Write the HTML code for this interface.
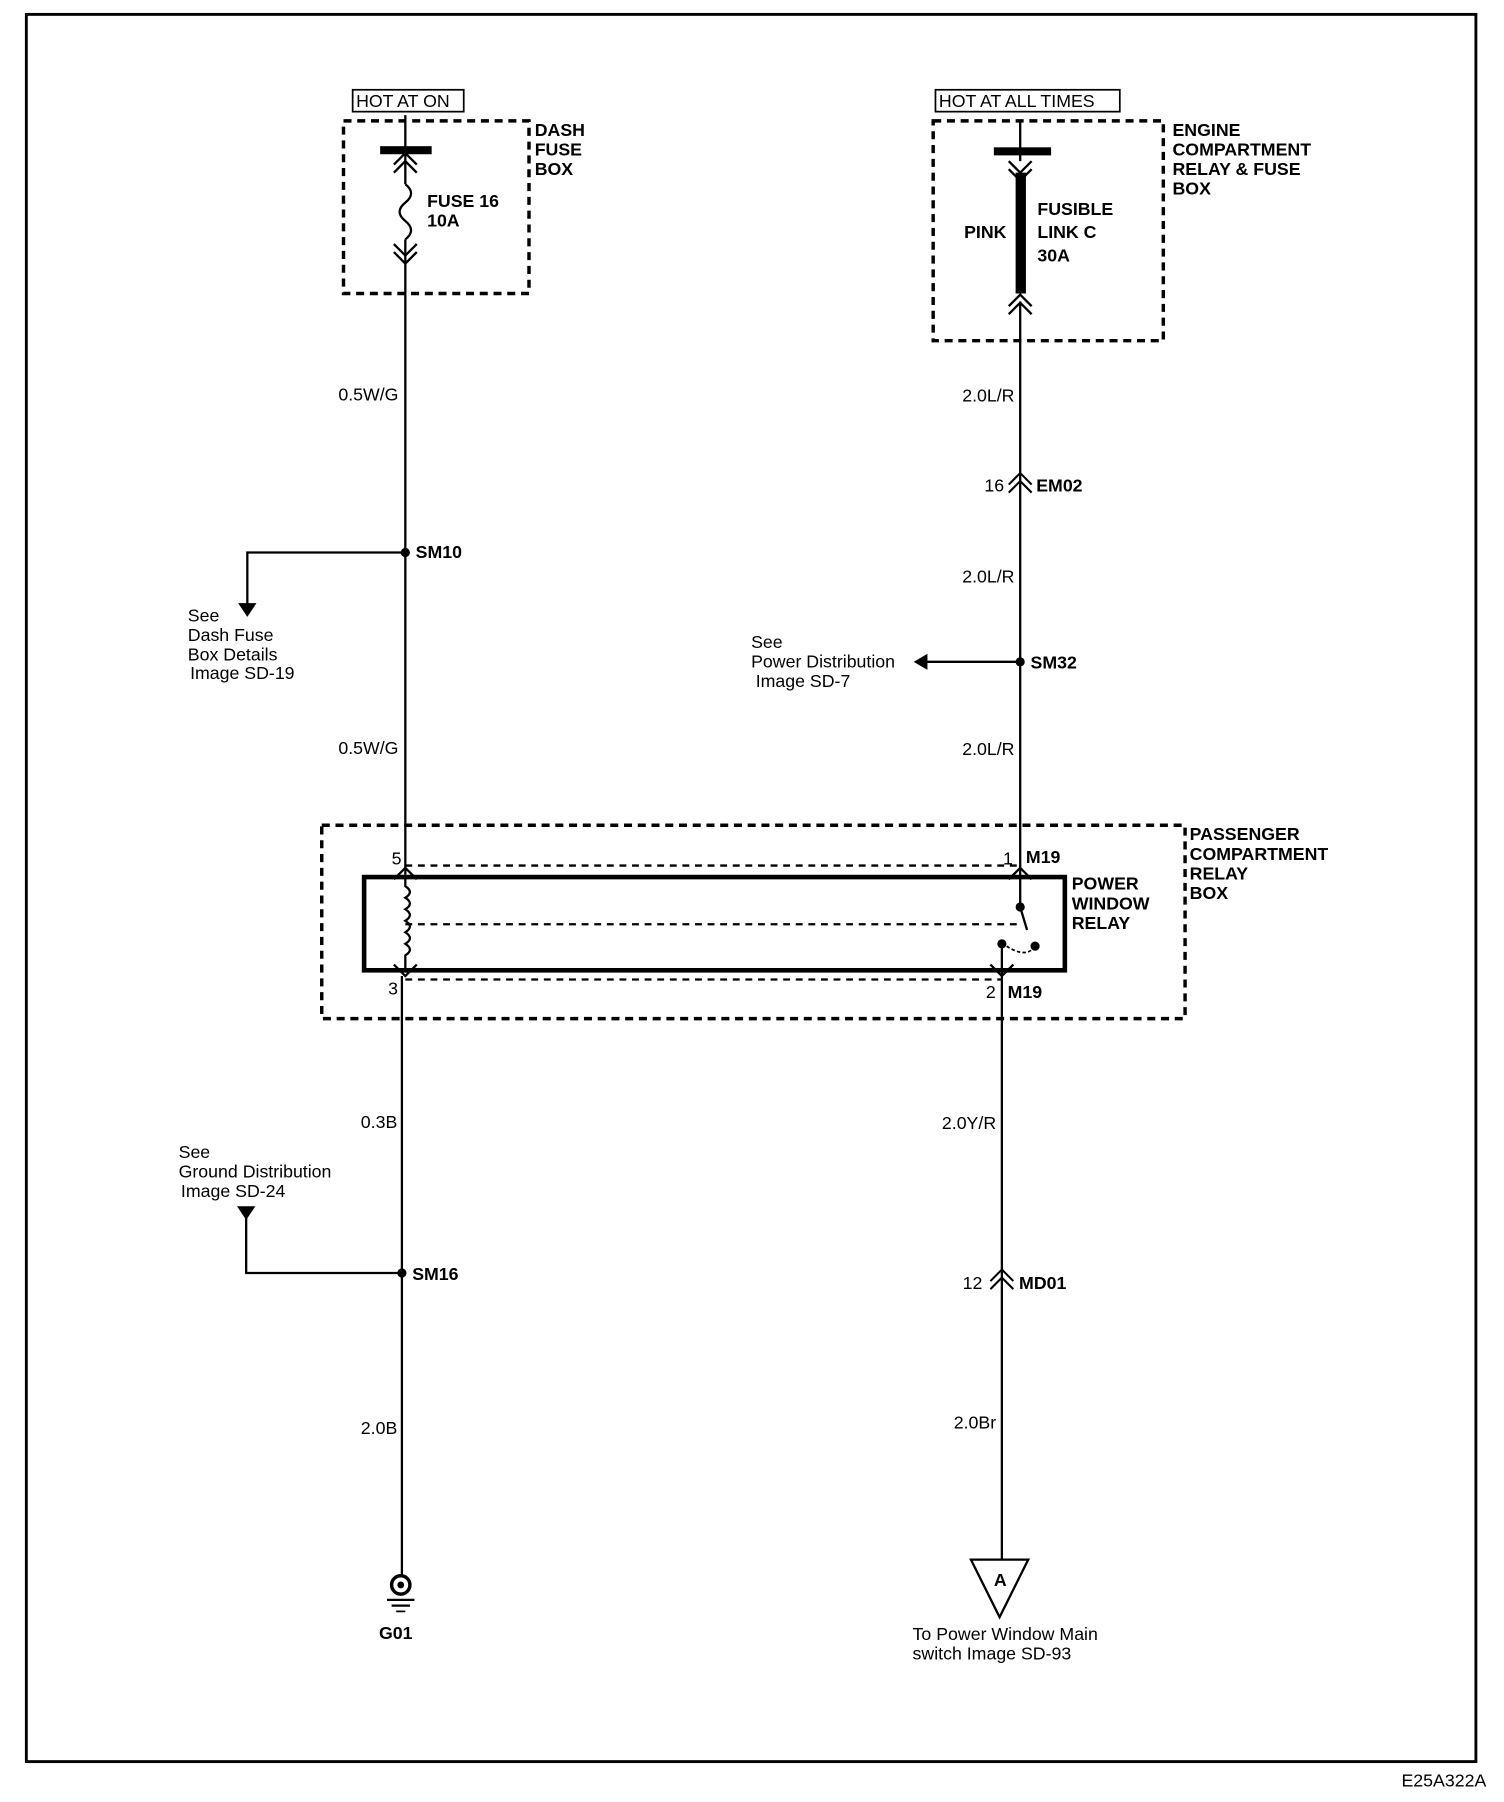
<!DOCTYPE html>
<html><head><meta charset="utf-8"><style>
html,body{margin:0;padding:0;background:#fff}
svg{display:block}
text{font-family:"Liberation Sans",Arial,sans-serif;font-size:15.5px;fill:#000}
.b{font-weight:bold}
</style></head><body>
<svg width="1504" height="1802" viewBox="0 0 1504 1802" xmlns="http://www.w3.org/2000/svg">
<g transform="matrix(1.145 0 0 1.151 0 0)">
<rect x="23" y="12.5" width="1266" height="1518" fill="none" stroke="#000" stroke-width="2.5"/>
<g fill="none" stroke="#000">
<rect x="300" y="105" width="162" height="150" stroke-width="3" stroke-dasharray="7,5"/>
<rect x="308" y="78" width="97" height="19" stroke-width="1.5"/>
<rect x="815" y="105" width="201" height="191" stroke-width="3" stroke-dasharray="7,5"/>
<rect x="817" y="78" width="161" height="19" stroke-width="1.5"/>
<rect x="281" y="717" width="754" height="168" stroke-width="3" stroke-dasharray="7,5"/>
<rect x="318" y="762" width="612" height="81" stroke-width="4"/>
<line x1="354" y1="752" x2="891" y2="752" stroke-width="2" stroke-dasharray="6,5"/>
<line x1="354" y1="851" x2="875" y2="851" stroke-width="2" stroke-dasharray="6,5"/>
<line x1="354" y1="803" x2="891" y2="803" stroke-width="2" stroke-dasharray="6,5"/>
<line x1="354" y1="100" x2="354" y2="160" stroke-width="2"/>
<path d="M354 160 q10 8 0 16 q-10 8 0 16 q10 8 0 16" stroke-width="2"/>
<line x1="354" y1="208" x2="354" y2="760" stroke-width="2"/>
<path d="M344 150 l10 -10 l10 10 M344 143 l10 -10 l10 10" stroke-width="2"/>
<path d="M344 212 l10 10 l10 -10 M344 219 l10 10 l10 -10" stroke-width="2"/>
<polyline points="354,480 216,480 216,525" stroke-width="2"/>
<path d="M354 762 v8 q8 5 0 10 q8 5 0 10 q8 5 0 10 q8 5 0 10 q8 5 0 10 q8 5 0 10 v15" stroke-width="2"/>
<path d="M344 764 l10 -10 l10 10 M344 838 l10 10 l10 -10" stroke-width="2"/>
<line x1="351" y1="848" x2="351" y2="1370" stroke-width="2"/>
<polyline points="351,1106 215,1106 215,1058" stroke-width="2"/>
<circle cx="350" cy="1377" r="8" stroke-width="3"/>
<line x1="338" y1="1390" x2="362" y2="1390" stroke-width="2"/>
<line x1="342" y1="1395" x2="358" y2="1395" stroke-width="2"/>
<line x1="346" y1="1400" x2="354" y2="1400" stroke-width="1.5"/>
<line x1="891" y1="105" x2="891" y2="140" stroke-width="2"/>
<path d="M881 140 l10 10 l10 -10 M881 147 l10 10 l10 -10" stroke-width="2"/>
<line x1="891" y1="262" x2="891" y2="790" stroke-width="2"/>
<path d="M881 273 l10 -10 l10 10 M881 266 l10 -10 l10 10" stroke-width="2"/>
<path d="M881 428 l10 -10 l10 10 M881 421 l10 -10 l10 10" stroke-width="1.8"/>
<polyline points="891,575 808,575" stroke-width="2"/>
<path d="M881 764 l10 -10 l10 10" stroke-width="2"/>
<line x1="891" y1="788" x2="897" y2="808" stroke-width="2"/>
<path d="M904 822 q-8 12 -28 -2" stroke-width="1.5" stroke-dasharray="3,2"/>
<line x1="875" y1="820" x2="875" y2="1355" stroke-width="2"/>
<path d="M865 838 l10 10 l10 -10" stroke-width="2"/>
<path d="M865 1120 l10 -10 l10 10 M865 1113 l10 -10 l10 10" stroke-width="1.8"/>
<polygon points="848,1355 898,1355 873,1405" stroke-width="2"/>
</g>
<g fill="#000">
<rect x="332" y="127" width="45" height="7"/>
<rect x="868" y="128" width="50" height="7"/>
<rect x="887" y="150" width="9" height="105"/>
<circle cx="354" cy="480" r="4"/>
<circle cx="891" cy="575" r="4"/>
<circle cx="351" cy="1106" r="4"/>
<circle cx="350" cy="1377" r="3"/>
<polygon points="208,524 224,524 216,536"/>
<polygon points="810,568 810,582 798,575"/>
<polygon points="207,1048 223,1048 215,1060"/>
<circle cx="891" cy="788" r="4"/>
<circle cx="904" cy="822" r="4"/>
<circle cx="875" cy="820" r="4"/>
</g>
<text x="311" y="93">HOT AT ON</text>
<text x="820" y="93">HOT AT ALL TIMES</text>
<text class="b" x="467" y="118">DASH</text>
<text class="b" x="467" y="135">FUSE</text>
<text class="b" x="467" y="152">BOX</text>
<text class="b" x="373" y="180">FUSE 16</text>
<text class="b" x="373" y="197">10A</text>
<text class="b" x="1024" y="118">ENGINE</text>
<text class="b" x="1024" y="135">COMPARTMENT</text>
<text class="b" x="1024" y="152">RELAY &amp; FUSE</text>
<text class="b" x="1024" y="169">BOX</text>
<text class="b" x="906" y="187">FUSIBLE</text>
<text class="b" x="906" y="207">LINK C</text>
<text class="b" x="906" y="227">30A</text>
<text class="b" x="842" y="207">PINK</text>
<text x="348" y="348" text-anchor="end">0.5W/G</text>
<text x="348" y="655" text-anchor="end">0.5W/G</text>
<text class="b" x="363" y="485">SM10</text>
<text x="164" y="540">See</text>
<text x="164" y="557">Dash Fuse</text>
<text x="164" y="574">Box Details</text>
<text x="166" y="590">Image  SD-19</text>
<text x="886" y="349" text-anchor="end">2.0L/R</text>
<text x="877" y="427" text-anchor="end">16</text>
<text class="b" x="905" y="427">EM02</text>
<text x="886" y="506" text-anchor="end">2.0L/R</text>
<text x="656" y="563">See</text>
<text x="656" y="580">Power Distribution</text>
<text x="660" y="597">Image  SD-7</text>
<text class="b" x="900" y="581">SM32</text>
<text x="886" y="656" text-anchor="end">2.0L/R</text>
<text class="b" x="1039" y="730">PASSENGER</text>
<text class="b" x="1039" y="747">COMPARTMENT</text>
<text class="b" x="1039" y="764">RELAY</text>
<text class="b" x="1039" y="781">BOX</text>
<text class="b" x="936" y="773">POWER</text>
<text class="b" x="936" y="790">WINDOW</text>
<text class="b" x="936" y="807">RELAY</text>
<text x="342" y="751">5</text>
<text x="339" y="864">3</text>
<text x="876" y="751">1</text>
<text class="b" x="896" y="750">M19</text>
<text x="861" y="867">2</text>
<text class="b" x="880" y="867">M19</text>
<text x="347" y="980" text-anchor="end">0.3B</text>
<text x="156" y="1006">See</text>
<text x="156" y="1023">Ground Distribution</text>
<text x="158" y="1040">Image  SD-24</text>
<text class="b" x="360" y="1112">SM16</text>
<text x="347" y="1246" text-anchor="end">2.0B</text>
<text class="b" x="331" y="1424">G01</text>
<text x="870" y="981" text-anchor="end">2.0Y/R</text>
<text x="858" y="1120" text-anchor="end">12</text>
<text class="b" x="890" y="1120">MD01</text>
<text x="870" y="1241" text-anchor="end">2.0Br</text>
<text class="b" x="868" y="1378" font-size="13">A</text>
<text x="797" y="1425">To Power Window Main</text>
<text x="797" y="1442">switch  Image  SD-93</text>
<text x="1224" y="1552" font-size="12">E25A322A</text>
</g>
</svg>
</body></html>
